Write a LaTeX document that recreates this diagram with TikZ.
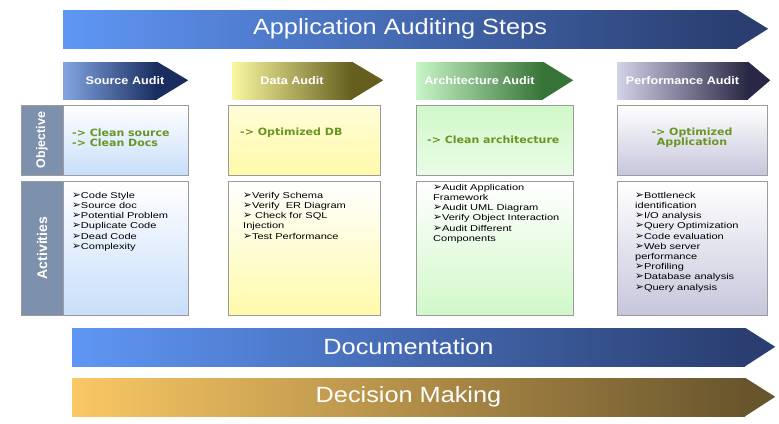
\documentclass[tikz,border=0pt]{standalone}
\usepackage{fontspec}
\setmainfont{Liberation Sans}[FakeStretch=1.15]
\newfontfamily\actfont{Liberation Sans}[FakeStretch=1.3]
\newfontfamily\labelfont{Liberation Sans}
\newfontfamily\objfont{DejaVu Sans}[FakeStretch=1.1]
\newfontfamily\bulletfont{DejaVu Sans}
\usetikzlibrary{positioning,calc}

\definecolor{bannerL}{RGB}{95,150,245}
\definecolor{bannerR}{RGB}{42,62,112}
\definecolor{decideL}{RGB}{250,200,100}
\definecolor{decideR}{RGB}{105,85,45}
\definecolor{srcL}{RGB}{130,165,225}
\definecolor{srcR}{RGB}{25,45,95}
\definecolor{dataL}{RGB}{250,248,160}
\definecolor{dataR}{RGB}{100,95,30}
\definecolor{archL}{RGB}{200,245,200}
\definecolor{archR}{RGB}{55,115,55}
\definecolor{perfL}{RGB}{210,210,232}
\definecolor{perfR}{RGB}{40,40,70}
\definecolor{labelgray}{RGB}{125,145,172}
\definecolor{goalgreen}{RGB}{105,150,35}
\definecolor{boxborder}{RGB}{155,155,155}
\definecolor{srcbox}{RGB}{200,222,250}
\definecolor{databox}{RGB}{255,250,170}
\definecolor{archbox}{RGB}{208,248,200}
\definecolor{perfbox}{RGB}{198,198,220}

\newcommand{\itm}{{\bulletfont\fontsize{10.5}{8.5}\selectfont ➢}}

\tikzset{
    banner/.style={
        rectangle,
        text=white,
        inner sep=0pt,
        minimum height=38pt,
        font=\fontsize{22}{24}\selectfont
    },
    header/.style={
        rectangle,
        text=white,
        inner sep=0pt,
        minimum height=37pt,
        font=\bfseries\fontsize{11}{13}\selectfont
    },
    sidelabel/.style={
        draw=boxborder,
        fill=labelgray,
        rectangle,
        text=white,
        rotate=90,
        inner sep=0pt,
        minimum height=42pt,
        font=\labelfont\bfseries
    },
    content/.style={
        draw=boxborder,
        rectangle,
        inner sep=0pt
        %minimum height=70pt
    },
    goal/.style={
        text=goalgreen,
        inner sep=0pt,
        align=left,
        font=\objfont\bfseries\fontsize{10}{10}\selectfont
    },
    activity/.style={
        anchor=north west,
        inner sep=0pt,
        align=left,
        font=\actfont\fontsize{8.5}{10.2}\selectfont
    },
}

\begin{document}
\begin{tikzpicture}[x=1pt, y=-1pt]
    \useasboundingbox[fill=white] (0,0) rectangle (779,423);

    % title banner
    \node[banner, left color=bannerL, right color=bannerR, minimum width=674pt] (steps) at (400,29) {Application Auditing Steps};
    \fill[bannerR] (steps.north east) -- ++(31,19) -- (steps.south east) -- cycle;

    % audit headers
    \node[header, left color=srcL, right color=srcR, minimum width=94pt] (srchead) at (110,80.5) {};
    \fill[srcR] (srchead.north east) -- ++(31,18.5) -- (srchead.south east) -- cycle;
    \node[header] (srctitle) at (125,80.5) {Source Audit};
    \node[header, left color=dataL, right color=dataR, minimum width=120pt] (datahead) at (292,80.5) {Data Audit};
    \fill[dataR] (datahead.north east) -- ++(31,18.5) -- (datahead.south east) -- cycle;
    \node[header, left color=archL, right color=archR, minimum width=127pt] (archhead) at (479.5,80.5) {Architecture Audit};
    \fill[archR] (archhead.north east) -- ++(30,18.5) -- (archhead.south east) -- cycle;
    \node[header, left color=perfL, right color=perfR, minimum width=131pt] (perfhead) at (682.5,80.5) {Performance Audit};
    \fill[perfR] (perfhead.north east) -- ++(22,18.5) -- (perfhead.south east) -- cycle;

    % row labels
    \node[sidelabel, minimum width=70pt, font=\labelfont\bfseries\fontsize{12.5}{14}\selectfont] (objlabel) at (42,140) {Objective};
    \node[sidelabel, minimum width=134pt, font=\labelfont\bfseries\fontsize{14}{16}\selectfont] (actlabel) at (42,248) {Activities};

    % objective boxes
    \node[content, top color=white, bottom color=srcbox, minimum width=125pt, minimum height=70pt] (srcobj) at (125.5,140) {};
    \node[content, top color=databox!45, bottom color=databox, minimum width=152pt, minimum height=70pt] (dataobj) at (304,140) {};
    \node[content, top color=archbox, bottom color=archbox!45, minimum width=157pt, minimum height=70pt] (archobj) at (494.5,140) {};
    \node[content, top color=white, bottom color=perfbox, minimum width=150pt, minimum height=70pt] (perfobj) at (692,140) {};

    % activity boxes
    \node[content, top color=white, bottom color=srcbox, minimum width=125pt, minimum height=134pt, below=6pt of srcobj] (srcact) {};
    \node[content, top color=white, bottom color=databox, minimum width=152pt, minimum height=134pt, below=6pt of dataobj] (dataact) {};
    \node[content, top color=white, bottom color=archbox, minimum width=157pt, minimum height=134pt, below=6pt of archobj] (archact) {};
    \node[content, top color=white, bottom color=perfbox, minimum width=150pt, minimum height=134pt, below=6pt of perfobj] (perfact) {};

    % objectives
    \node[goal, anchor=west] (srcgoal) at (72,138) {-> Clean source\\-> Clean Docs};
    \node[goal, anchor=west] (datagoal) at (240,133) {-> Optimized DB};
    \node[goal, anchor=west] (archgoal) at (427,140) {-> Clean architecture};
    \node[goal, align=center] (perfgoal) at (692,138) {-> Optimized\\Application};

    % activities
    \node[activity] (srclist) at (72,192) {\itm Code Style\\\itm Source doc\\\itm Potential Problem\\\itm Duplicate Code\\\itm Dead Code\\\itm Complexity};
    \node[activity] (datalist) at (243,192) {\itm Verify Schema\\\itm Verify\ \ ER Diagram\\\itm\ Check for SQL\\Injection\\\itm Test Performance};
    \node[activity] (archlist) at (433,184) {\itm Audit Application\\Framework\\\itm Audit UML Diagram\\\itm Verify Object Interaction\\\itm Audit Different\\Components};
    \node[activity] (perflist) at (635,192) {\itm Bottleneck\\identification\\\itm I/O analysis\\\itm Query Optimization\\\itm Code evaluation\\\itm Web server\\performance\\\itm Profiling\\\itm Database analysis\\\itm Query analysis};

    % closing banners
    \node[banner, left color=bannerL, right color=bannerR, minimum width=673pt] (docs) at (408.5,347) {Documentation};
    \fill[bannerR] (docs.north east) -- ++(30,19) -- (docs.south east) -- cycle;
    \node[banner, left color=decideL, right color=decideR, minimum width=673pt] (decide) at (408.5,397) {Decision Making};
    \fill[decideR] (decide.north east) -- ++(30,19) -- (decide.south east) -- cycle;
\end{tikzpicture}
\end{document}
